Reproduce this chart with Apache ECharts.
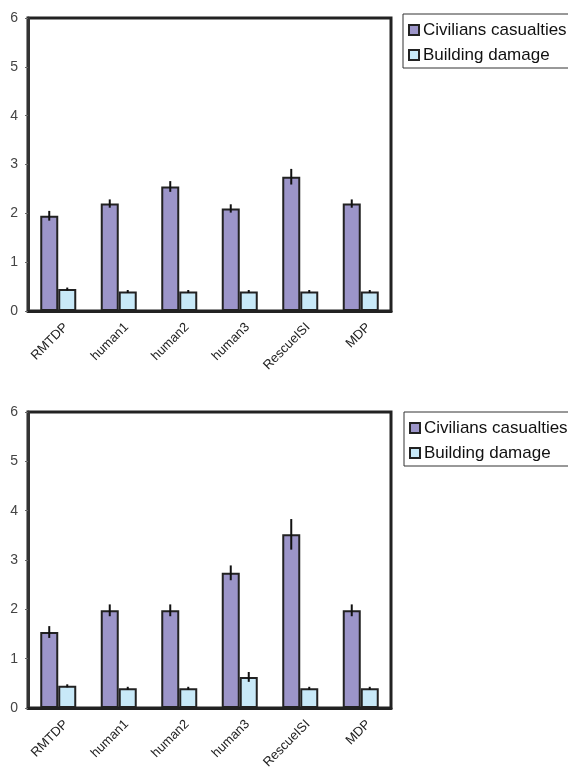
<!DOCTYPE html>
<html>
<head>
<meta charset="utf-8">
<script src="https://cdn.jsdelivr.net/npm/echarts@6/dist/echarts.min.js"></script>
<style>html,body{margin:0;padding:0;background:#fff}#c{width:568px;height:774px}</style>
</head>
<body>
<div id="c"></div>
<script>
var categories = ['RMTDP', 'human1', 'human2', 'human3', 'RescueISI', 'MDP'];
var yTicks = [0, 1, 2, 3, 4, 5, 6];
var seriesNames = ['Civilians casualties', 'Building damage'];

// Top chart
var casualtiesA = [1.95, 2.2, 2.55, 2.1, 2.75, 2.2];
var casualtiesErrA = [0.1, 0.085, 0.11, 0.085, 0.16, 0.085];
var damageA = [0.45, 0.4, 0.4, 0.4, 0.4, 0.4];
var damageErrA = [0.03, 0.03, 0.03, 0.03, 0.03, 0.03];

// Bottom chart
var casualtiesB = [1.54, 1.98, 1.98, 2.74, 3.52, 1.98];
var casualtiesErrB = [0.12, 0.12, 0.12, 0.15, 0.31, 0.12];
var damageB = [0.45, 0.4, 0.4, 0.63, 0.4, 0.4];
var damageErrB = [0.03, 0.03, 0.03, 0.1, 0.03, 0.03];

var PURPLE = '#9c95c9';
var CYAN = '#c8e9f8';
var BAR_W = 18;

function errSeries(gi, vals, errs, offset) {
  var data = vals.map(function (v, i) { return [i, v, errs[i]]; });
  return {
    type: 'custom', xAxisIndex: gi, yAxisIndex: gi, z: 5,
    silent: true,
    data: data,
    renderItem: function (params, api) {
      var x = api.value(0), v = api.value(1), e = api.value(2);
      var hi = api.coord([x, v + e]);
      var lo = api.coord([x, v - e]);
      var cx = hi[0] + offset;
      return {
        type: 'line',
        shape: { x1: cx, y1: hi[1], x2: cx, y2: lo[1] },
        style: { stroke: '#111', lineWidth: 2 }
      };
    }
  };
}

function barSeries(gi, name, vals, color) {
  return {
    type: 'bar', name: name, xAxisIndex: gi, yAxisIndex: gi,
    data: vals, barWidth: BAR_W, barGap: '0%',
    itemStyle: { color: color, borderColor: '#222', borderWidth: 2 }
  };
}

var grids = [
  { left: 28, top: 18, width: 363, height: 293 },
  { left: 28, top: 412, width: 363, height: 296 }
];

function legendAt(left, top) {
  return {
    data: seriesNames, orient: 'vertical', left: left, top: top,
    borderColor: '#333', borderWidth: 1, padding: [7, 4, 4, 5], itemGap: 7,
    itemWidth: 10, itemHeight: 10, icon: 'rect',
    textStyle: { fontSize: 17, lineHeight: 18, fontFamily: 'Liberation Sans, Arial, sans-serif', color: '#111', padding: [0, 0, 0, -1] }
  };
}

var option = {
  animation: false,
  backgroundColor: '#fff',
  grid: grids.map(function (g) {
    return Object.assign({ show: true, borderColor: '#222', borderWidth: 3, backgroundColor: '#fff' }, g);
  }),
  legend: [legendAt(403, 14), legendAt(404, 412)],
  xAxis: [0, 1].map(function (gi) {
    return {
      type: 'category', gridIndex: gi, data: categories,
      axisLine: { show: true, lineStyle: { color: '#222', width: 3 } },
      axisTick: { show: false },
      axisLabel: {
        rotate: 45, fontSize: 13, color: '#222', margin: 22,
        padding: [0, -11, 0, 0],
        fontFamily: 'Liberation Sans, Arial, sans-serif'
      }
    };
  }),
  yAxis: [0, 1].map(function (gi) {
    return {
      type: 'value', gridIndex: gi, min: 0, max: 6, interval: 1,
      splitLine: { show: false },
      axisLine: { show: true, lineStyle: { color: '#333', width: 3 } },
      axisTick: { show: true, length: 3, lineStyle: { color: '#666' } },
      axisLabel: {
        fontSize: 14, color: '#444', margin: 10, fontFamily: 'Liberation Sans, Arial, sans-serif',
        formatter: function (v) { return yTicks.indexOf(v) >= 0 ? String(v) : ''; }
      }
    };
  }),
  series: [
    barSeries(0, seriesNames[0], casualtiesA, PURPLE),
    barSeries(0, seriesNames[1], damageA, CYAN),
    errSeries(0, casualtiesA, casualtiesErrA, -BAR_W / 2),
    errSeries(0, damageA, damageErrA, BAR_W / 2),
    barSeries(1, seriesNames[0], casualtiesB, PURPLE),
    barSeries(1, seriesNames[1], damageB, CYAN),
    errSeries(1, casualtiesB, casualtiesErrB, -BAR_W / 2),
    errSeries(1, damageB, damageErrB, BAR_W / 2)
  ]
};

var chart = echarts.init(document.getElementById('c'), null, { renderer: 'canvas' });
chart.setOption(option);
</script>
</body>
</html>
